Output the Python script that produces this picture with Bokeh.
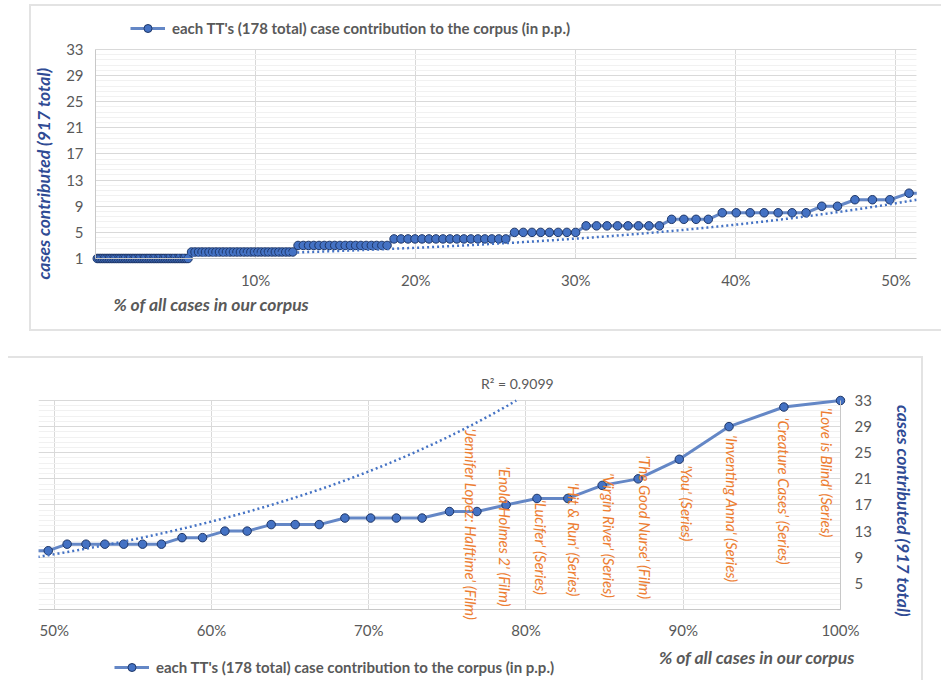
import numpy as np
from bokeh.plotting import figure
from bokeh.models import (Range1d, FixedTicker, PrintfTickFormatter, Label, BoxAnnotation,
                          Legend, LegendItem)
from bokeh.embed import file_html
from bokeh.resources import INLINE

# ---------------- DATA ----------------
contrib_levels = [1, 2, 3, 4, 5, 6, 7, 8, 9, 10, 11, 12, 13, 14, 15, 16, 17, 18, 20, 21, 24, 29, 32, 33]
tt_counts = [53, 30, 18, 17, 8, 8, 4, 7, 2, 3, 6, 2, 2, 3, 4, 2, 1, 2, 1, 1, 1, 1, 1, 1]
labelled_titles = [
    "'Jennifer Lopez: Halftime' (Film)",
    "'Enola Holmes 2' (Film)",
    "'Lucifer' (Series)",
    "'Hit & Run' (Series)",
    "'Virgin River' (Series)",
    "'The Good Nurse' (Film)",
    "'You' (Series)",
    "'Inventing Anna' (Series)",
    "'Creature Cases' (Series)",
    "'Love is Blind' (Series)",
]
# exponential trendline as drawn in the picture: y = coef * exp(rate * x%)
trend_coef = 1.13
trend_rate = 0.0425
y_ticks = [1, 5, 9, 13, 17, 21, 25, 29, 33]
y_ticks_bottom = [5, 9, 13, 17, 21, 25, 29, 33]
x_ticks_top = [10, 20, 30, 40, 50]
x_ticks_bottom = [50, 60, 70, 80, 90, 100]
legend_text = "each TT's (178 total) case contribution to the corpus (in p.p.)"
x_title = "% of all cases in our corpus"
y_title = "cases contributed (917 total)"
r2_text = "R\u00b2 = 0.9099"

# ---------------- derived ----------------
values = np.repeat(contrib_levels, tt_counts).astype(float)
total = values.sum()
x_pct = np.cumsum(values) / total * 100.0
xt = np.linspace(x_pct.min(), x_pct.max(), 3000)
yt = trend_coef * np.exp(trend_rate * xt)
yt = np.where(yt <= 33, yt, np.nan)

# layout of the data labels (x in %, top of text in value units)
label_pos = [(76.52, 28.7), (78.69, 22.95), (80.98, 17.8), (83.08, 20.4), (85.31, 21.9),
             (87.6, 24.6), (90.27, 23.1), (93.07, 27.7), (96.38, 30.4), (99.12, 31.9)]

FONT = "Lato"
GRID = "#d9d9d9"
MINOR = "#f1f1f1"
TXT = "#595959"
LINE_C = "#6487c6"
MARK_C = "#4472c4"
MARK_L = "#1f3768"
YT_C = "#2f4b94"
ORANGE = "#ed7d31"
BORDER = "2px solid #e3e3e3"

minor = list(np.arange(1, 33.01, 0.8))


def style(p, xticks, yticks, xb_, yb_):
    p.outline_line_color = None
    p.xaxis.ticker = FixedTicker(ticks=xticks)
    p.xaxis.formatter = PrintfTickFormatter(format="%d%%")
    p.yaxis.ticker = FixedTicker(ticks=yticks)
    p.xaxis.fixed_location = yb_[0]
    p.xaxis.bounds = xb_
    p.yaxis.bounds = yb_
    for ax in list(p.xaxis) + list(p.yaxis):
        ax.major_tick_line_color = None
        ax.minor_tick_line_color = None
        ax.axis_line_color = "#c8c8c8"
        ax.major_label_text_font = FONT
        ax.major_label_text_font_size = "15px"
        ax.major_label_text_color = TXT
    p.xaxis.major_label_standoff = 6
    p.xgrid.ticker = FixedTicker(ticks=xticks)
    p.xgrid.grid_line_color = GRID
    p.xgrid.cross_bounds = yb_
    p.ygrid.ticker = FixedTicker(ticks=y_ticks, minor_ticks=minor)
    p.ygrid.grid_line_color = GRID
    p.ygrid.minor_grid_line_color = MINOR
    p.ygrid.cross_bounds = xb_


def draw_series(p, sel, tsel):
    lr = p.line(x_pct[sel], values[sel], line_color=LINE_C, line_width=3)
    sr = p.scatter(x_pct[sel], values[sel], size=8.5, fill_color=MARK_C, line_color=MARK_L,
                   line_width=1)
    p.line(xt[tsel], yt[tsel], line_color=MARK_C, line_width=2.5, line_dash="2 3")
    return lr, sr


def make_legend(lr, sr, loc):
    return Legend(items=[LegendItem(label=legend_text, renderers=[lr, sr])], location=loc,
                  glyph_width=35, glyph_height=20, label_height=20, label_standoff=7,
                  padding=0, margin=0, spacing=0, border_line_color=None,
                  background_fill_alpha=0, label_text_font=FONT, label_text_font_style="bold",
                  label_text_font_size="15px", label_text_color=TXT)


def label(p, x, y, text, size, style_, color, angle=0.0, align="left"):
    p.add_layout(Label(x=x, y=y, text=text, angle=angle, text_align=align,
                       text_baseline="middle", text_font=FONT, text_font_size=size,
                       text_font_style=style_, text_color=color))


# ---------------- top panel (0 % .. 51.3 %) ----------------
p1 = figure(width=912, height=327, x_range=Range1d(-4.0, 52.97), y_range=Range1d(-10.48, 39.58),
            output_backend="svg", toolbar_location=None,
            min_border_left=0, min_border_right=0, min_border_top=0, min_border_bottom=0,
            margin=(4, 0, 0, 29),
            styles={"border-left": BORDER, "border-top": BORDER, "border-bottom": BORDER})
style(p1, x_ticks_top, y_ticks, (0, 51.3), (1, 33))
p1.yaxis.fixed_location = 0
p1.yaxis.major_label_standoff = 6
lr1, sr1 = draw_series(p1, x_pct <= 53, xt <= 53)
p1.add_layout(BoxAnnotation(left=51.3, fill_color="white", fill_alpha=1, line_color=None))
p1.add_layout(make_legend(lr1, sr1, (99, 295)))
label(p1, 1.12, -6.04, x_title, "17.5px", "bold italic", TXT)
label(p1, -3.24, 14.0, y_title, "17.5px", "bold italic", YT_C, angle=np.pi / 2, align="center")

# ---------------- bottom panel (49 % .. 100 %) ----------------
p2 = figure(width=915, height=324, x_range=Range1d(47.09, 105.28), y_range=Range1d(-10.18, 39.43),
            output_backend="svg", toolbar_location=None, y_axis_location="right",
            min_border_left=0, min_border_right=0, min_border_top=0, min_border_bottom=0,
            margin=(25, 0, 0, 8),
            styles={"border-top": BORDER, "border-right": BORDER})
style(p2, x_ticks_bottom, y_ticks_bottom, (49, 100), (1, 33))
p2.yaxis.fixed_location = 100
p2.yaxis.major_label_standoff = 8
lr2, sr2 = draw_series(p2, x_pct >= 48.3, xt >= 48.0)
p2.add_layout(BoxAnnotation(right=49, fill_color="white", fill_alpha=1, line_color=None))
for t, (lx, ly_) in zip(labelled_titles, label_pos):
    label(p2, lx, ly_, t, "15px", "italic", ORANGE, angle=-np.pi / 2)
label(p2, 77.14, 35.6, r2_text, "14px", "normal", TXT)
label(p2, 88.46, -6.31, x_title, "17.5px", "bold italic", TXT)
label(p2, 104.03, 16.1, y_title, "17.5px", "bold italic", YT_C, angle=-np.pi / 2, align="center")
p2.add_layout(make_legend(lr2, sr2, (106, 5)))

open("out.html", "w").write(file_html([p1, p2], INLINE))
